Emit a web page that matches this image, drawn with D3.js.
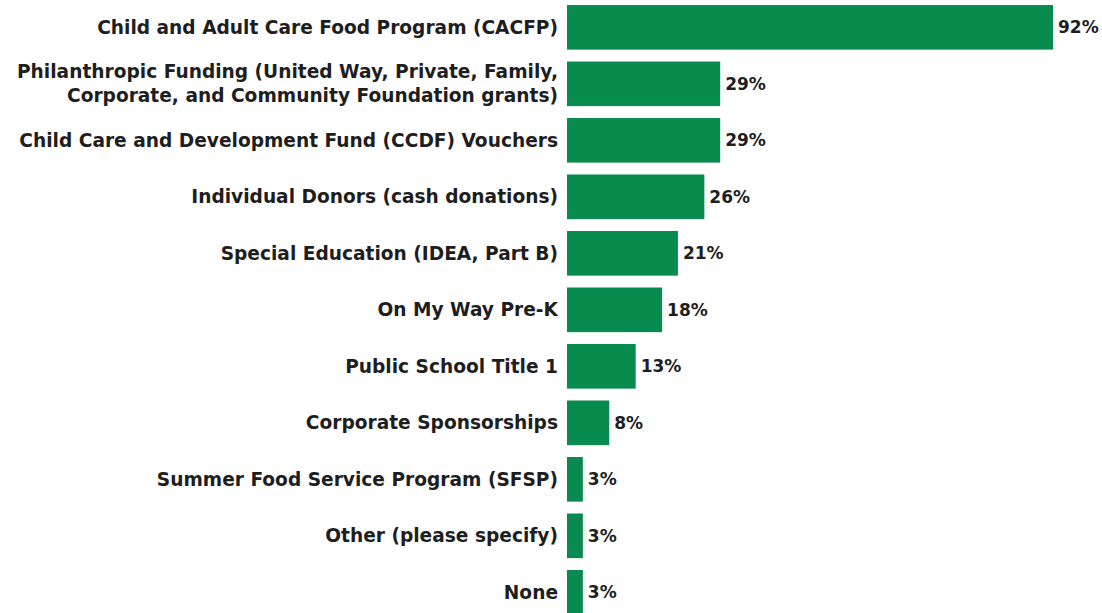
<!DOCTYPE html>
<html><head><meta charset="utf-8">
<script src="https://cdn.jsdelivr.net/npm/d3@7"></script>
<style>body{margin:0;background:#fff;overflow:hidden}</style>
</head><body><svg id="c" width="1102" height="613"></svg>
<script>
const categories = [
  ["Child and Adult Care Food Program (CACFP)"],
  ["Philanthropic Funding (United Way, Private, Family,", "Corporate, and Community Foundation grants)"],
  ["Child Care and Development Fund (CCDF) Vouchers"],
  ["Individual Donors (cash donations)"],
  ["Special Education (IDEA, Part B)"],
  ["On My Way Pre-K"],
  ["Public School Title 1"],
  ["Corporate Sponsorships"],
  ["Summer Food Service Program (SFSP)"],
  ["Other (please specify)"],
  ["None"]
];
const values = [92, 29, 29, 26, 21, 18, 13, 8, 3, 3, 3];
const valueLabels = ["92%", "29%", "29%", "26%", "21%", "18%", "13%", "8%", "3%", "3%", "3%"];

const svg = d3.select("#c");
const x0 = 567;
const x = d3.scaleLinear().domain([0, 92]).range([x0, 1053]);
const idx = d3.range(values.length);
const y = d3.scaleBand().domain(idx).range([5, 5 + 56.5 * (11 - 0.21)]).paddingInner(0.21).paddingOuter(0);

const font = "'DejaVu Sans', sans-serif";
const g = svg.append("g");
g.selectAll("rect").data(idx).join("rect")
  .attr("x", x(0)).attr("y", i => y(i))
  .attr("width", i => x(values[i]) - x(0))
  .attr("height", y.bandwidth())
  .attr("fill", "#078b4e");

g.selectAll("text.v").data(idx).join("text").attr("class", "v")
  .attr("x", i => x(values[i]) + 5)
  .attr("y", i => y(i) + y.bandwidth() / 2)
  .attr("dy", "0.35em")
  .attr("font-family", font).attr("font-weight", "bold").attr("font-size", 17)
  .attr("fill", "#1e1e1e")
  .text(i => valueLabels[i]);

const lab = g.selectAll("text.l").data(idx).join("text").attr("class", "l")
  .attr("text-anchor", "end")
  .attr("font-family", font).attr("font-weight", "bold").attr("font-size", 18.6)
  .attr("fill", "#1e1e1e");
lab.each(function(i) {
  const lines = categories[i];
  const cy = y(i) + y.bandwidth() / 2;
  const lh = 24;
  lines.forEach((t, k) => {
    d3.select(this).append("tspan")
      .attr("x", 558)
      .attr("y", cy + (k - (lines.length - 1) / 2) * lh)
      .attr("dy", "0.35em")
      .text(t);
  });
});
</script></body></html>
